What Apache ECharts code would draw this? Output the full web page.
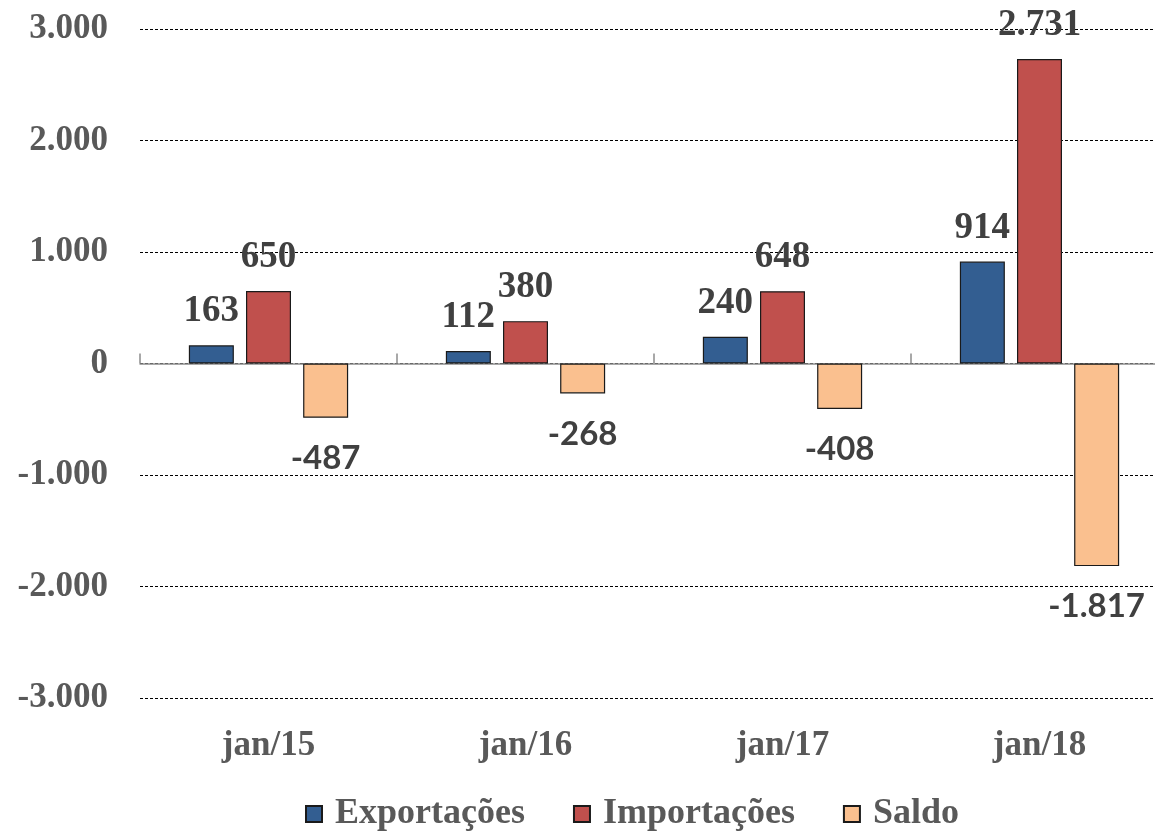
<!DOCTYPE html>
<html>
<head>
<meta charset="utf-8">
<script src="https://cdn.jsdelivr.net/npm/echarts@6/dist/echarts.min.js"></script>
<style>
  html, body { margin: 0; padding: 0; background: #fff; }
  #chart { width: 1155px; height: 831px; }
</style>
</head>
<body>
<div id="chart"></div>
<script>
// dados (US$ milhões)
const categorias = ['jan/15', 'jan/16', 'jan/17', 'jan/18']
const exportacoes = [163, 112, 240, 914]
const importacoes = [650, 380, 648, 2731]
const saldo = [-487, -268, -408, -1817]

const serif = '"Liberation Serif", "Times New Roman", serif'
const sans = 'Lato, "Liberation Sans", sans-serif'

// formato pt-BR: ponto como separador de milhar
function fmt(v) {
  const s = String(Math.abs(v)).replace(/\B(?=(\d{3})+(?!\d))/g, '.')
  return (v < 0 ? '-' : '') + s
}

const chart = echarts.init(document.getElementById('chart'))

function barSeries(name, data, color, labelPos, dist, font) {
  return {
    name: name,
    type: 'bar',
    data: data,
    barWidth: 45,
    barGap: '27%',
    itemStyle: { color: color, borderColor: '#1a1a1a', borderWidth: 1.2 },
    label: {
      show: true,
      position: labelPos,
      distance: dist,
      formatter: (p) => fmt(p.value),
      color: '#404040',
      fontFamily: font,
      fontWeight: 'bold',
      fontSize: font === serif ? 37 : 33,
    },
  }
}

const axisGray = '#8c8c8c'

chart.setOption({
  animation: false,
  grid: { left: 140, top: 29, width: 1028, height: 669, outerBoundsMode: 'none', containLabel: false },
  legend: {
    bottom: -6,
    left: 300,
    itemWidth: 16,
    itemHeight: 16,
    itemGap: 48,
    icon: 'rect',
    textStyle: { fontFamily: serif, fontWeight: 'bold', fontSize: 36, color: '#595959', padding: [0, 0, 0, 8] },
  },
  xAxis: [
    {
      // rótulos das categorias, embaixo do gráfico
      type: 'category',
      data: categorias,
      position: 'bottom',
      axisLine: { show: false, onZero: false },
      axisTick: { show: false },
      axisLabel: {
        margin: 30,
        fontFamily: serif,
        fontWeight: 'bold',
        fontSize: 35,
        color: '#595959',
      },
    },
    {
      // linha do zero com marcas entre categorias
      type: 'category',
      data: categorias,
      position: 'top',
      axisLine: { onZero: true, lineStyle: { color: axisGray, width: 1.5 } },
      axisTick: { show: true, length: 10, lineStyle: { color: axisGray, width: 1.5 } },
      axisLabel: { show: false },
    },
  ],
  yAxis: {
    type: 'value',
    min: -3000,
    max: 3000,
    interval: 1000,
    axisLine: { show: false },
    axisTick: { show: false },
    axisLabel: {
      margin: 32,
      formatter: fmt,
      fontFamily: serif,
      fontWeight: 'bold',
      fontSize: 35,
      color: '#595959',
    },
    splitLine: { lineStyle: { color: '#000', width: 1, type: [3, 2] } },
  },
  series: [
    barSeries('Exportações', exportacoes, '#335E91', 'top', 15, serif),
    barSeries('Importações', importacoes, '#C0504D', 'top', 15, serif),
    barSeries('Saldo', saldo, '#FAC08F', 'bottom', 24, sans),
  ],
})

window.addEventListener('resize', () => chart.resize())
</script>
</body>
</html>
